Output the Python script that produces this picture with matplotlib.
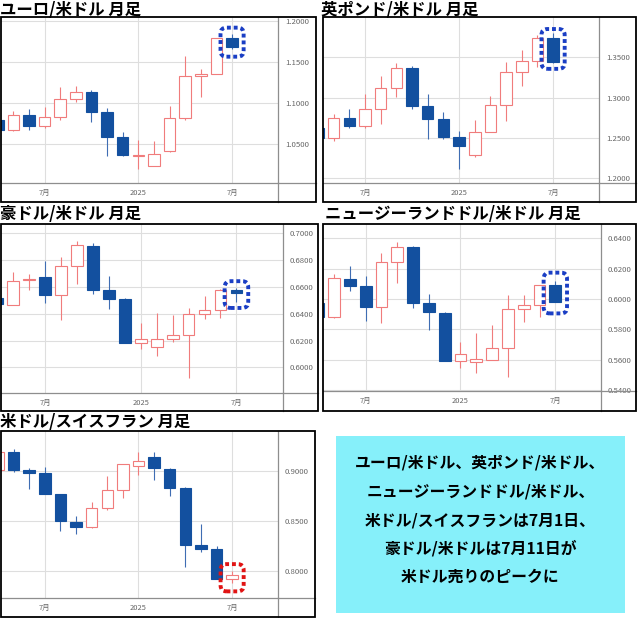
import matplotlib
matplotlib.use('Agg')
import matplotlib.pyplot as plt
from matplotlib.patches import FancyBboxPatch, Rectangle
from matplotlib.lines import Line2D

plt.rcParams['font.family'] = ['Noto Sans CJK JP', 'DejaVu Sans']

# months shown (Apr 2024 is cut off at the left edge)
months = ['2024-04', '2024-05', '2024-06', '2024-07', '2024-08', '2024-09',
          '2024-10', '2024-11', '2024-12', '2025-01', '2025-02', '2025-03',
          '2025-04', '2025-05', '2025-06', '2025-07']
tick_months = ['2024-07', '2025-01', '2025-07']
tick_labels = ['7月', '2025', '7月']

# EUR/USD monthly
eur_open = [1.0785, 1.0665, 1.0848, 1.0713, 1.0825, 1.1050, 1.1133, 1.0882,
            1.0585, 1.0352, 1.0232, 1.0407, 1.0813, 1.1321, 1.1354, 1.1787]
eur_high = [1.0885, 1.0894, 1.0923, 1.0947, 1.1191, 1.1207, 1.1154, 1.0935,
            1.0638, 1.0540, 1.0528, 1.0955, 1.1573, 1.1411, 1.1787, 1.1841]
eur_low = [1.0601, 1.0650, 1.0671, 1.0690, 1.0785, 1.1004, 1.0768, 1.0346,
           1.0350, 1.0190, 1.0224, 1.0394, 1.0793, 1.1069, 1.1350, 1.1655]
eur_close = [1.0665, 1.0848, 1.0713, 1.0825, 1.1050, 1.1133, 1.0882, 1.0585,
             1.0362, 1.0362, 1.0378, 1.0813, 1.1321, 1.1346, 1.1787, 1.1684]

# GBP/USD monthly
gbp_open = [1.2619, 1.2498, 1.2740, 1.2644, 1.2857, 1.3124, 1.3370, 1.2899,
            1.2731, 1.2510, 1.2289, 1.2573, 1.2907, 1.3325, 1.3462, 1.3738]
gbp_high = [1.2710, 1.2790, 1.2861, 1.3045, 1.3270, 1.3437, 1.3391, 1.3041,
            1.2815, 1.2581, 1.2719, 1.3020, 1.3446, 1.3596, 1.3776, 1.3805]
gbp_low = [1.2300, 1.2456, 1.2614, 1.2623, 1.2669, 1.3003, 1.2853, 1.2489,
           1.2489, 1.2105, 1.2259, 1.2573, 1.2711, 1.3149, 1.3379, 1.3429]
gbp_close = [1.2498, 1.2740, 1.2644, 1.2857, 1.3124, 1.3370, 1.2899, 1.2731,
             1.2510, 1.2397, 1.2573, 1.2907, 1.3325, 1.3450, 1.3738, 1.3442]

# AUD/USD monthly
aud_open = [0.6520, 0.6468, 0.6650, 0.6675, 0.6540, 0.6760, 0.6908, 0.6578,
            0.6508, 0.6183, 0.6150, 0.6212, 0.6243, 0.6398, 0.6430, 0.6580]
aud_high = [0.6640, 0.6708, 0.6700, 0.6795, 0.6820, 0.6940, 0.6930, 0.6680,
            0.6515, 0.6330, 0.6405, 0.6393, 0.6445, 0.6533, 0.6585, 0.6595]
aud_low = [0.6360, 0.6468, 0.6575, 0.6480, 0.6350, 0.6625, 0.6545, 0.6435,
           0.6180, 0.6135, 0.6088, 0.6188, 0.5918, 0.6358, 0.6370, 0.6488]
aud_close = [0.6470, 0.6648, 0.6663, 0.6540, 0.6760, 0.6910, 0.6578, 0.6508,
             0.6183, 0.6213, 0.6208, 0.6243, 0.6398, 0.6430, 0.6580, 0.6555]

# NZD/USD monthly
nzd_open = [0.5976, 0.5879, 0.6134, 0.6086, 0.5945, 0.6244, 0.6345, 0.5971,
            0.5910, 0.5591, 0.5582, 0.5598, 0.5679, 0.5932, 0.5960, 0.6092]
nzd_high = [0.6050, 0.6165, 0.6220, 0.6152, 0.6301, 0.6378, 0.6350, 0.6033,
            0.5915, 0.5719, 0.5774, 0.5829, 0.6026, 0.6026, 0.6092, 0.6119]
nzd_low = [0.5850, 0.5872, 0.6055, 0.5857, 0.5844, 0.6108, 0.5938, 0.5796,
           0.5591, 0.5543, 0.5514, 0.5598, 0.5488, 0.5846, 0.5879, 0.5978]
nzd_close = [0.5879, 0.6141, 0.6086, 0.5945, 0.6244, 0.6341, 0.5971, 0.5912,
             0.5591, 0.5637, 0.5602, 0.5679, 0.5932, 0.5960, 0.6092, 0.5980]

# USD/CHF monthly
chf_open = [0.9005, 0.9185, 0.9010, 0.8983, 0.8768, 0.8490, 0.8447, 0.8629,
            0.8808, 0.9053, 0.9136, 0.9020, 0.8834, 0.8265, 0.8222, 0.7928]
chf_high = [0.9245, 0.9218, 0.9026, 0.9043, 0.8770, 0.8547, 0.8695, 0.8954,
            0.9070, 0.9192, 0.9192, 0.9026, 0.8844, 0.8474, 0.8249, 0.8000]
chf_low = [0.8990, 0.8993, 0.8821, 0.8768, 0.8398, 0.8371, 0.8431, 0.8609,
           0.8729, 0.8960, 0.8911, 0.8755, 0.8040, 0.8192, 0.7928, 0.7885]
chf_close = [0.9185, 0.9010, 0.8977, 0.8768, 0.8500, 0.8447, 0.8629, 0.8808,
             0.9070, 0.9103, 0.9026, 0.8834, 0.8259, 0.8225, 0.7928, 0.7961]

titles = ['ユーロ/米ドル 月足', '英ポンド/米ドル 月足', '豪ドル/米ドル 月足',
          'ニュージーランドドル/米ドル 月足', '米ドル/スイスフラン 月足']

# highlighted range around the latest candle (low, high)
eur_mark = (1.1561, 1.1915)
gbp_mark = (1.3358, 1.3855)
aud_mark = (0.6443, 0.6643)
nzd_mark = (0.5905, 0.6174)
chf_mark = (0.7802, 0.8073)

note_lines = ['ユーロ/米ドル、英ポンド/米ドル、',
              'ニュージーランドドル/米ドル、',
              '米ドル/スイスフランは7月1日、',
              '豪ドル/米ドルは7月11日が',
              '米ドル売りのピークに']


def month_num(s):
    y, m = s.split('-')
    return (int(y) - 2024) * 12 + int(m) - 1


x = [month_num(m) for m in months]
xt = [month_num(m) for m in tick_months]

W, H = 640, 618
fig = plt.figure(figsize=(6.4, 6.18), dpi=100)

RED = '#F07C7C'
BLUE = '#13509F'
BLUE_WICK = '#3F6DB3'
GRID = '#DEDEDE'
AXLINE = '#8E8E8E'


def fig_rect(l, t, r, b):
    return [l / W, 1 - b / H, (r - l) / W, (b - t) / H]


def panel(title, title_xy, frame, plot, xlim, ylim, yticks,
          o, h, l, c, mark, mark_color):
    fl, ft, fr, fb = frame
    pl, pt, pr, pb = plot
    ax = fig.add_axes(fig_rect(pl, pt, pr, pb))
    ax.patch.set_alpha(0)

    up = [cc >= oo for oo, cc in zip(o, c)]
    wick_cols = [RED if u else BLUE_WICK for u in up]
    ax.vlines(x, l, h, colors=wick_cols, lw=0.8, zorder=2)
    bottoms = [min(oo, cc) for oo, cc in zip(o, c)]
    heights = [max(abs(cc - oo), (ylim[1] - ylim[0]) * 0.004) for oo, cc in zip(o, c)]
    faces = ['white' if u else BLUE for u in up]
    edges = [RED if u else BLUE for u in up]
    ax.bar(x, heights, bottom=bottoms, width=0.74, color=faces,
           edgecolor=edges, lw=0.8, zorder=3)

    ax.set_xlim(*xlim)
    ax.set_ylim(*ylim)
    ax.set_yticks(yticks)
    ax.set_yticklabels(['%.4f' % v for v in yticks])
    ax.set_xticks(xt)
    ax.set_xticklabels(tick_labels)
    ax.yaxis.tick_right()
    ax.tick_params(axis='y', length=0, labelsize=5.6, labelcolor='#666666', pad=5)
    ax.tick_params(axis='x', length=0, labelsize=5.4, labelcolor='#666666', pad=4.5)
    ax.grid(color=GRID, lw=0.8)
    ax.set_axisbelow(True)
    for s in ['top', 'left']:
        ax.spines[s].set_visible(False)
    for s in ['right', 'bottom']:
        ax.spines[s].set_color(AXLINE)
        ax.spines[s].set_linewidth(0.9)

    # highlight box around latest candle, rounded equally in pixels
    asp = ((ylim[1] - ylim[0]) / (pb - pt)) / ((xlim[1] - xlim[0]) / (pr - pl))
    xc = x[-1]
    hw = 0.74
    box = FancyBboxPatch((xc - hw, mark[0]), 2 * hw, mark[1] - mark[0],
                         boxstyle='round,pad=0,rounding_size=0.38',
                         mutation_aspect=asp, fill=False, ec=mark_color,
                         lw=2.8, ls=(0, (1.0, 0.75)), capstyle='butt',
                         zorder=5, clip_on=False)
    ax.add_patch(box)

    # axis lines running out to the frame
    fig.add_artist(Line2D([pr / W, fr / W], [1 - pb / H] * 2, color=AXLINE, lw=0.9))
    fig.add_artist(Line2D([pr / W] * 2, [1 - pb / H, 1 - fb / H], color=AXLINE, lw=0.9))
    fig.add_artist(Rectangle((fl / W, 1 - fb / H), (fr - fl) / W, (fb - ft) / H,
                             fill=False, ec='black', lw=1.3,
                             transform=fig.transFigure, zorder=10))
    fig.text(title_xy[0] / W, 1 - title_xy[1] / H, title, fontsize=11.8,
             weight='bold', va='baseline', ha='left')
    return ax


panel(titles[0], (0, 15), (0.7, 17, 316, 202), (0.7, 17, 278, 183),
      (3.19, 20.94), (1.002, 1.2045), [1.05, 1.10, 1.15, 1.20],
      eur_open, eur_high, eur_low, eur_close, eur_mark, '#1A3EC4')
panel(titles[1], (321, 15), (323, 17, 636, 202), (323, 17, 599, 183),
      (3.32, 20.93), (1.1934, 1.4005), [1.20, 1.25, 1.30, 1.35],
      gbp_open, gbp_high, gbp_low, gbp_close, gbp_mark, '#1A3EC4')
panel(titles[2], (0, 219), (0.7, 224, 318, 411), (0.7, 224, 283, 393),
      (3.22, 20.92), (0.5808, 0.707), [0.60, 0.62, 0.64, 0.66, 0.68, 0.70],
      aud_open, aud_high, aud_low, aud_close, aud_mark, '#1A3EC4')
panel(titles[3], (325, 219), (323, 224, 636, 411), (323, 224, 601, 391),
      (3.30, 20.89), (0.5393, 0.6495), [0.54, 0.56, 0.58, 0.60, 0.62, 0.64],
      nzd_open, nzd_high, nzd_low, nzd_close, nzd_mark, '#1A3EC4')
panel(titles[4], (0, 427), (0.7, 431, 315, 617), (0.7, 431, 278, 598),
      (3.17, 20.94), (0.7736, 0.9397), [0.80, 0.85, 0.90],
      chf_open, chf_high, chf_low, chf_close, chf_mark, '#E01414')

# note box
fig.add_artist(Rectangle((336 / W, 1 - 613 / H), (625 - 336) / W, (613 - 436) / H,
                         facecolor='#86F0FA', edgecolor='none',
                         transform=fig.transFigure, zorder=0))
for i, line in enumerate(note_lines):
    yc = 463 + i * 28.5
    fig.text(480.5 / W, 1 - yc / H, line, fontsize=11.4,
             weight='bold', ha='center', va='center')

fig.savefig('out.png', dpi=100)
